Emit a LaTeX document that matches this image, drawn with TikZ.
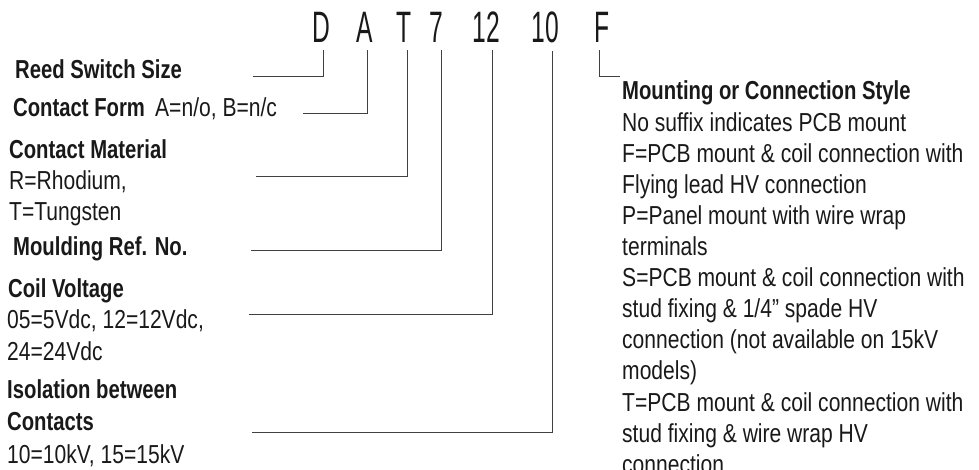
\documentclass[tikz,border=0pt]{standalone}
\usepackage{fontspec}
\setmainfont[FakeStretch=0.81]{Liberation Sans}
\newfontfamily\boldf[FakeStretch=0.78]{Liberation Sans}
\newfontfamily\codefont[FakeStretch=0.56]{Liberation Sans}
\begin{document}
\begin{tikzpicture}[x=1pt,y=-1pt,
  lbl/.style={anchor=base west,inner sep=0pt,text=black!90,font=\fontsize{26}{31}\selectfont},
  hd/.style={lbl,font=\boldf\fontsize{26}{31}\selectfont\bfseries},
  code/.style={anchor=base,inner sep=0pt,text=black!90,font=\codefont\fontsize{44}{50}\selectfont},
  ln/.style={draw=black!75,line width=0.9pt}]
\useasboundingbox (0,0) rectangle (979,470);
% part number
\node[code] (cD) at (321,43) {D};
\node[code] (cA) at (365,43) {A};
\node[code] (cT) at (404,43) {T};
\node[code] (c7) at (436,43) {7};
\node[code] (c12) at (486,43) {12};
\node[code] (c10) at (545,43) {10};
\node[code] (cF) at (602,43) {F};
% left labels
\node[hd] (reed) at (15,79) {Reed Switch Size};
\node[hd] (form) at (13,117) {Contact Form};
\node[lbl] (formv) at (155,117) {A=n/o, B=n/c};
\node[hd] (mat) at (9,159) {Contact Material};
\node[lbl] (mat1) at (9,190) {R=Rhodium,};
\node[lbl] (mat2) at (9,221) {T=Tungsten};
\node[hd] (mould) at (13,255) {Moulding Ref. No.};
\node[hd] (coil) at (8,297) {Coil Voltage};
\node[lbl] (coil1) at (7,328) {05=5Vdc, 12=12Vdc,};
\node[lbl] (coil2) at (7,360) {24=24Vdc};
\node[hd] (iso) at (7,398) {Isolation between};
\node[hd] (iso1) at (7,430) {Contacts};
\node[lbl] (iso2) at (7,463) {10=10kV, 15=15kV};
% right block
\node[hd] (r0) at (622,100) {Mounting or Connection Style};
\foreach \t [count=\i] in {No suffix indicates PCB mount,
  F=PCB mount \& coil connection with,
  Flying lead HV connection,
  P=Panel mount with wire wrap,
  terminals,
  S=PCB mount \& coil connection with,
  stud fixing \& 1/4” spade HV,
  connection (not available on 15kV,
  models),
  T=PCB mount \& coil connection with,
  stud fixing \& wire wrap HV,
  connection}
  \node[lbl] (r\i) at (622,{100+31.1*\i}) {\t};
% connector start points
\coordinate (sD) at (253,76);
\coordinate (sA) at (303,113);
\coordinate (sT) at (256,176);
\coordinate (s7) at (251,250);
\coordinate (s12) at (249,314);
\coordinate (s10) at (252,432);
\coordinate (sF) at (620,76);
% connectors
\draw[ln] (sD) -| ([xshift=2pt,yshift=-7pt]cD.south);
\draw[ln] (sA) -| ([xshift=2pt,yshift=-7pt]cA.south);
\draw[ln] (sT) -| ([xshift=3pt,yshift=-7pt]cT.south);
\draw[ln] (s7) -| ([xshift=5pt,yshift=-7pt]c7.south);
\draw[ln] (s12) -| ([xshift=6pt,yshift=-7pt]c12.south);
\draw[ln] (s10) -| ([xshift=7pt,yshift=-7pt]c10.south);
\draw[ln] (sF) -| ([xshift=-3pt,yshift=-7pt]cF.south);
\end{tikzpicture}
\end{document}
